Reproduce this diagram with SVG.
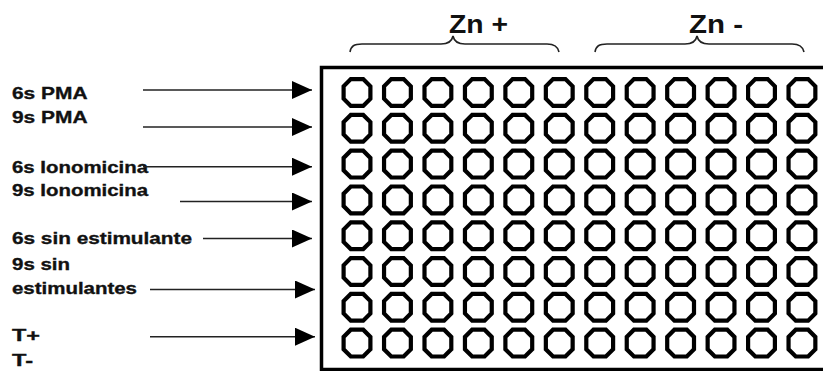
<svg xmlns="http://www.w3.org/2000/svg" xmlns:xlink="http://www.w3.org/1999/xlink" width="823" height="371" viewBox="0 0 823 371">
<defs>
<style>
.lbl{font-family:"Liberation Sans",Arial,sans-serif;font-weight:bold;font-size:17px;fill:#111;stroke:#111;stroke-width:0.35}
.zn{font-family:"Liberation Sans",Arial,sans-serif;font-weight:bold;font-size:25px;fill:#111}
.arr{stroke:#222;stroke-width:1.6;fill:none;marker-end:url(#ah)}
.brace{stroke:#222;stroke-width:1.6;fill:none}
.well{fill:none;stroke:#000;stroke-width:4.2;stroke-linejoin:miter}
.plate{fill:none;stroke:#000;stroke-width:3.5}
</style>
<marker id="ah" markerUnits="userSpaceOnUse" markerWidth="20" markerHeight="18" refX="20" refY="9" orient="auto">
<path d="M0,0 L20,9 L0,18 z" fill="#000"/>
</marker>
<polygon id="oct" class="well" points="13.4,6.2 6.2,13.4 -6.2,13.4 -13.4,6.2 -13.4,-6.2 -6.2,-13.4 6.2,-13.4 13.4,-6.2"/>
<g id="wrow">
<use xlink:href="#oct" href="#oct" x="357"/>
<use xlink:href="#oct" href="#oct" x="397.45"/>
<use xlink:href="#oct" href="#oct" x="437.9"/>
<use xlink:href="#oct" href="#oct" x="478.35"/>
<use xlink:href="#oct" href="#oct" x="518.8"/>
<use xlink:href="#oct" href="#oct" x="559.25"/>
<use xlink:href="#oct" href="#oct" x="599.7"/>
<use xlink:href="#oct" href="#oct" x="640.15"/>
<use xlink:href="#oct" href="#oct" x="680.6"/>
<use xlink:href="#oct" href="#oct" x="721.05"/>
<use xlink:href="#oct" href="#oct" x="761.5"/>
<use xlink:href="#oct" href="#oct" x="801.95"/>
</g>
</defs>
<rect width="823" height="371" fill="#fff"/>

<g id="plate">
<path class="plate" d="M824,67.5 H321.5 V369.5 H824"/>
<use xlink:href="#wrow" href="#wrow" y="92.5"/>
<use xlink:href="#wrow" href="#wrow" y="128.3"/>
<use xlink:href="#wrow" href="#wrow" y="164.1"/>
<use xlink:href="#wrow" href="#wrow" y="199.9"/>
<use xlink:href="#wrow" href="#wrow" y="235.7"/>
<use xlink:href="#wrow" href="#wrow" y="271.5"/>
<use xlink:href="#wrow" href="#wrow" y="307.3"/>
<use xlink:href="#wrow" href="#wrow" y="343.1"/>
</g>

<g id="zn-plus">
<path class="brace" d="M350,52 C351,46 354,44 362,44 L441,44 C448,44 452,41 453,36 C454,41 458,44 465,44 L547,44 C555,44 558,47 559,52"/>
<text class="zn" x="449" y="33" textLength="59" lengthAdjust="spacingAndGlyphs">Zn +</text>
</g>
<g id="zn-minus">
<path class="brace" d="M595,52 C596,46 599,44 607,44 L685,44 C692,44 696,41 697,36 C698,41 702,44 709,44 L792,44 C800,44 803,47 804,52"/>
<text class="zn" x="689" y="33" textLength="54" lengthAdjust="spacingAndGlyphs">Zn -</text>
</g>

<g id="labels">
<text class="lbl" x="12" y="99" textLength="75.5" lengthAdjust="spacingAndGlyphs">6s PMA</text>
<text class="lbl" x="12" y="123" textLength="75.5" lengthAdjust="spacingAndGlyphs">9s PMA</text>
<text class="lbl" x="12" y="173" textLength="136" lengthAdjust="spacingAndGlyphs">6s Ionomicina</text>
<text class="lbl" x="12" y="196" textLength="136" lengthAdjust="spacingAndGlyphs">9s Ionomicina</text>
<text class="lbl" x="12" y="244" textLength="180" lengthAdjust="spacingAndGlyphs">6s sin estimulante</text>
<text class="lbl" x="12" y="270" textLength="58" lengthAdjust="spacingAndGlyphs">9s sin</text>
<text class="lbl" x="12" y="294" textLength="125" lengthAdjust="spacingAndGlyphs">estimulantes</text>
<text class="lbl" x="12" y="341" textLength="28" lengthAdjust="spacingAndGlyphs">T+</text>
<text class="lbl" x="12" y="366" textLength="21" lengthAdjust="spacingAndGlyphs">T-</text>
</g>

<g id="connectors">
<line class="arr" x1="143" y1="90" x2="312" y2="90"/>
<line class="arr" x1="143" y1="127" x2="312" y2="127"/>
<line class="arr" x1="143" y1="166.7" x2="312" y2="166.7"/>
<line class="arr" x1="180" y1="201.5" x2="312" y2="201.5"/>
<line class="arr" x1="203" y1="238.5" x2="312" y2="238.5"/>
<line class="arr" x1="150" y1="289.5" x2="315" y2="289.5"/>
<line class="arr" x1="150" y1="336.7" x2="315" y2="336.7"/>
</g>
</svg>
